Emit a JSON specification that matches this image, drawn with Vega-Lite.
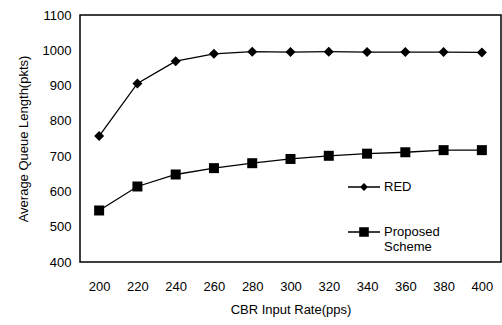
{
  "$schema": "https://vega.github.io/schema/vega-lite/v6.json",
  "width": 421,
  "height": 247,
  "autosize": {"type": "none"},
  "padding": {"left": 80, "top": 15, "right": 1, "bottom": 63},
  "background": "white",
  "config": {
    "view": {"stroke": "black", "strokeWidth": 1.5},
    "font": "Liberation Sans",
    "axis": {"grid": false, "ticks": false, "domain": false, "labelColor": "black", "titleColor": "black", "labelFont": "Liberation Sans", "titleFont": "Liberation Sans", "labelFontSize": 13, "titleFontSize": 13, "titleFontWeight": "normal"}
  },
  "data": {
    "values": [
      {"rate": 200, "series": "RED", "q": 757},
      {"rate": 220, "series": "RED", "q": 906},
      {"rate": 240, "series": "RED", "q": 969},
      {"rate": 260, "series": "RED", "q": 990},
      {"rate": 280, "series": "RED", "q": 996},
      {"rate": 300, "series": "RED", "q": 995},
      {"rate": 320, "series": "RED", "q": 996},
      {"rate": 340, "series": "RED", "q": 995},
      {"rate": 360, "series": "RED", "q": 995},
      {"rate": 380, "series": "RED", "q": 995},
      {"rate": 400, "series": "RED", "q": 994},
      {"rate": 200, "series": "Proposed Scheme", "q": 546},
      {"rate": 220, "series": "Proposed Scheme", "q": 614},
      {"rate": 240, "series": "Proposed Scheme", "q": 648},
      {"rate": 260, "series": "Proposed Scheme", "q": 666},
      {"rate": 280, "series": "Proposed Scheme", "q": 680},
      {"rate": 300, "series": "Proposed Scheme", "q": 692},
      {"rate": 320, "series": "Proposed Scheme", "q": 701},
      {"rate": 340, "series": "Proposed Scheme", "q": 707},
      {"rate": 360, "series": "Proposed Scheme", "q": 711},
      {"rate": 380, "series": "Proposed Scheme", "q": 717},
      {"rate": 400, "series": "Proposed Scheme", "q": 717}
    ]
  },
  "encoding": {
    "x": {"field": "rate", "type": "ordinal", "scale": {"type": "point", "padding": 0.5},
      "axis": {"title": "CBR Input Rate(pps)", "labelAngle": 0, "labelPadding": 18, "titlePadding": 10}},
    "y": {"field": "q", "type": "quantitative", "scale": {"domain": [400, 1100], "nice": false, "zero": false},
      "axis": {"title": "Average Queue Length(pkts)", "format": "d", "values": [400, 500, 600, 700, 800, 900, 1000, 1100], "labelPadding": 9, "titlePadding": 12}}
  },
  "resolve": {"scale": {"shape": "independent"}},
  "layer": [
    {
      "mark": {"type": "line", "color": "black", "strokeWidth": 1.3},
      "encoding": {"detail": {"field": "series"}}
    },
    {
      "mark": {"type": "point", "filled": true, "color": "black", "opacity": 0},
      "encoding": {
        "shape": {"field": "series", "type": "nominal",
          "scale": {"domain": ["RED", "Proposed Scheme"], "range": ["M-1,-0.04L1,-0.04L1,0.04L-1,0.04ZM0,-0.25L0.25,0L0,0.25L-0.25,0Z", "M-1,-0.04L1,-0.04L1,0.04L-1,0.04ZM-0.3,-0.3L0.3,-0.3L0.3,0.3L-0.3,0.3Z"]},
          "legend": {"title": null, "orient": "none", "legendX": 268, "legendY": 156, "symbolSize": 1024, "symbolOpacity": 1, "symbolFillColor": "black", "symbolStrokeWidth": 0, "labelFontSize": 13, "labelFont": "Liberation Sans", "labelColor": "black", "labelOffset": 4, "rowPadding": 22, "labelLimit": 200,
            "labelExpr": "datum.value == 'Proposed Scheme' ? ['Proposed', 'Scheme'] : datum.value"}
        },
        "size": {"value": 20}
      }
    },
    {
      "mark": {"type": "point", "filled": true, "color": "black", "opacity": 1},
      "encoding": {
        "shape": {"field": "series", "type": "nominal",
          "scale": {"domain": ["RED", "Proposed Scheme"], "range": ["diamond", "square"]},
          "legend": null},
        "size": {"value": 100}
      }
    }
  ]
}
